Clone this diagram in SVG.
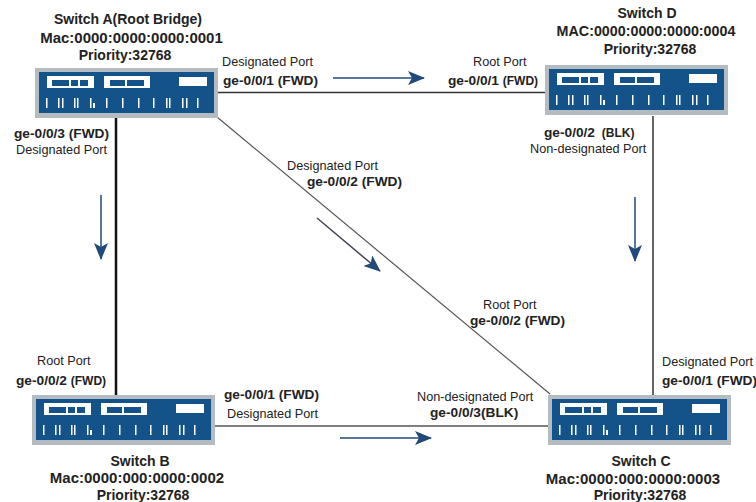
<svg xmlns="http://www.w3.org/2000/svg" width="756" height="502" viewBox="0 0 756 502">
<style>
text{font-family:"Liberation Sans",Arial,sans-serif;fill:#222}
.t{font-size:14px;font-weight:bold;text-anchor:middle}
.m{font-size:15px;font-weight:bold;text-anchor:middle}
.p{font-size:13.700px;font-weight:bold}
.s{font-size:12px;font-weight:bold}
.r{font-size:12.700px}
.l{fill:none;stroke:#333}
.f{fill:none;stroke:#1f4a7a;stroke-width:1.500}
</style>
<defs>
<marker id="ah" markerUnits="userSpaceOnUse" markerWidth="17" markerHeight="14" refX="16" refY="7" orient="auto"><path d="M0 0L17 7L0 14L4 7Z" fill="#1f4a7a"/></marker>
<g id="sw">
<rect width="183" height="50" fill="#b4bcc2"/>
<rect x="4" y="4" width="175" height="41" fill="#14528a"/>
<g fill="#fff">
<rect x="12" y="8" width="47" height="12"/><rect x="69" y="8" width="46" height="12"/><rect x="144" y="9" width="28" height="9"/>
<path d="M11 30h1.500v10h-1.500zM23 30h1.500v10h-1.500zM27 30h1.500v10h-1.500zM39 30h1.500v10h-1.500zM42 30h1.500v10h-1.500zM55 30h1.500v10h-1.500zM58 35h2v5h-2zM71 30h1.500v10h-1.500zM87 30h1.500v10h-1.500zM103 30h1.500v10h-1.500zM118 30h1.500v10h-1.500zM131 30h1.500v10h-1.500zM134 30h1.500v10h-1.500zM147 30h1.500v10h-1.500zM151 30h1.500v10h-1.500zM162 30h1.500v10h-1.500z"/>
</g>
<g fill="#14528a">
<rect x="17" y="12" width="17" height="6"/><rect x="36" y="12" width="7" height="6"/><rect x="45" y="12" width="8" height="6"/><rect x="75" y="12" width="15" height="6"/><rect x="92" y="12" width="17" height="6"/>
</g>
</g>
</defs>
<rect width="756" height="502" fill="#fff"/>
<g id="connectors">
<path class="l" d="M218 92.500H545" stroke-width="1.500"/>
<path class="l" d="M116 118V395" stroke-width="2.500" style="stroke:#111"/>
<path class="l" d="M653 116V395" stroke-width="1.500"/>
<path class="l" d="M217 117L550 394" stroke-width="1.200" style="stroke:#555"/>
<path class="l" d="M215 426H548" stroke-width="1.500" style="stroke:#555"/>
<path class="f" d="M333 78H424" marker-end="url(#ah)"/>
<path class="f" d="M340 438H431" marker-end="url(#ah)"/>
<path class="f" d="M101 195V259" marker-end="url(#ah)"/>
<path class="f" d="M635 197V261" marker-end="url(#ah)"/>
<path class="f" d="M317 218L380 271" marker-end="url(#ah)" style="stroke:#445"/>
</g>
<g id="switch-a">
<use href="#sw" x="35" y="68"/>
<text class="t" x="128" y="24">Switch A(Root Bridge)</text>
<text class="m" x="131.500" y="43">Mac:0000:0000:0000:0001</text>
<text class="t" x="125" y="60">Priority:32768</text>
<text class="r" x="222" y="66">Designated Port</text>
<text class="p" x="223" y="85">ge-0/0/1 (FWD)</text>
<text class="p" x="14" y="138">ge-0/0/3 (FWD)</text>
<text class="r" x="16" y="154">Designated Port</text>
<text class="r" x="287" y="170">Designated Port</text>
<text class="p" x="307" y="186">ge-0/0/2 (FWD)</text>
</g>
<g id="switch-d">
<use href="#sw" x="545" y="65"/>
<text class="t" x="647" y="18">Switch D</text>
<text class="t" x="646" y="36" style="font-size:14.300px">MAC:0000:0000:0000:0004</text>
<text class="t" x="650" y="54">Priority:32768</text>
<text class="r" x="473" y="66">Root Port</text>
<text class="p" x="448" y="85">ge-0/0/1 <tspan class="s">(FWD)</tspan></text>
<text class="p" x="544" y="137">ge-0/0/2 <tspan class="s" dx="3">(BLK)</tspan></text>
<text class="r" x="530" y="153">Non-designated Port</text>
</g>
<g id="switch-b">
<use href="#sw" x="32" y="395"/>
<text class="t" x="140" y="466">Switch B</text>
<text class="m" x="137" y="483">Mac:0000:000:0000:0002</text>
<text class="t" x="143" y="500">Priority:32768</text>
<text class="r" x="37" y="365">Root Port</text>
<text class="p" x="16" y="385">ge-0/0/2 <tspan class="s">(FWD)</tspan></text>
<text class="p" x="224" y="399">ge-0/0/1 (FWD)</text>
<text class="r" x="227" y="418">Designated Port</text>
</g>
<g id="switch-c">
<use href="#sw" x="548" y="395"/>
<text class="t" x="641" y="466">Switch C</text>
<text class="m" x="633" y="484">Mac:0000:000:0000:0003</text>
<text class="t" x="640" y="500">Priority:32768</text>
<text class="r" x="483" y="309">Root Port</text>
<text class="p" x="470" y="325">ge-0/0/2 (FWD)</text>
<text class="r" x="662" y="366">Designated Port</text>
<text class="p" x="662" y="385">ge-0/0/1 (FWD)</text>
<text class="r" x="417" y="401">Non-designated Port</text>
<text class="p" x="430" y="417">ge-0/0/3(BLK)</text>
</g>
</svg>
